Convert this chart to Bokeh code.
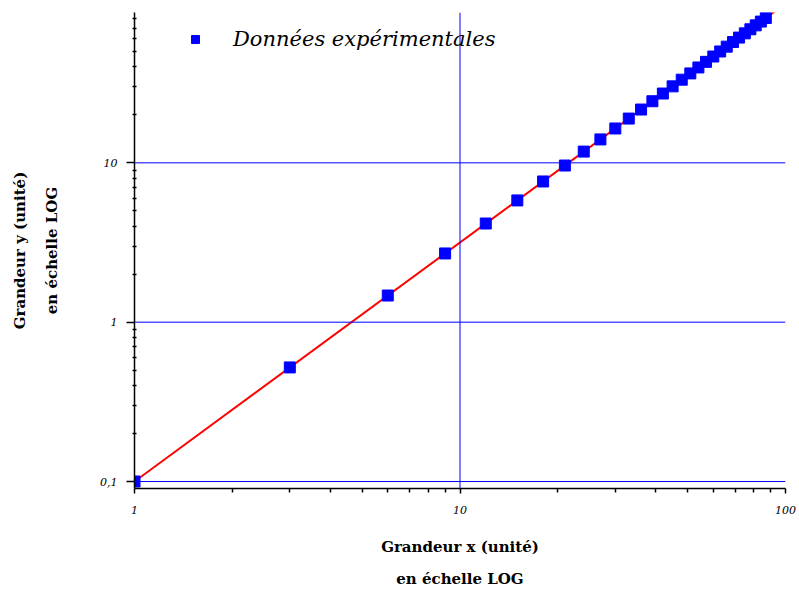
from bokeh.plotting import figure
from bokeh.models import (Legend, LegendItem, FixedTicker, CustomJSTickFormatter,
                          ColumnDataSource, Span)
from bokeh.embed import file_html
from bokeh.resources import INLINE

# Data
x_data = [1, 3, 6, 9, 12, 15, 18, 21, 24, 27, 30, 33, 36, 39, 42, 45, 48, 51, 54,
          57, 60, 63, 66, 69, 72, 75, 78, 81, 84, 87]
y_data = [0.1, 0.52, 1.47, 2.70, 4.16, 5.81, 7.64, 9.62, 11.76, 14.03, 16.43,
          18.96, 21.6, 24.36, 27.22, 30.19, 33.26, 36.42, 39.68, 43.03, 46.48,
          50.0, 53.62, 57.32, 61.09, 64.95, 68.89, 72.9, 76.99, 81.15]
fit_x = [1, 93]
fit_y = [0.1, 89.7]

x_major = [1, 10, 100]
y_major = [0.1, 1, 10]
x_grid_at = [10]
x_minor = [m * d for d in (1, 10) for m in range(2, 10)]
y_minor = [m * d for d in (0.01, 0.1, 1, 10) for m in range(2, 10)]

legend_label = "Données expérimentales"
x_label = "Grandeur x (unité)\nen échelle LOG"
y_label = "Grandeur y (unité)\nen échelle LOG"

p = figure(width=799, height=590, x_axis_type="log", y_axis_type="log",
           x_range=(1, 100), y_range=(0.0904, 87.8),
           output_backend="svg", toolbar_location=None,
           min_border_left=134, min_border_right=14, min_border_top=12,
           min_border_bottom=100)
p.outline_line_color = None
p.background_fill_color = "white"
p.xgrid.visible = False
p.ygrid.visible = False

for v in x_grid_at:
    p.add_layout(Span(location=v, dimension="height", line_color="#0000FF",
                      line_width=1))
for v in y_major:
    p.add_layout(Span(location=v, dimension="width", line_color="#0000FF",
                      line_width=1))

src = ColumnDataSource(dict(x=x_data, y=y_data))
line = p.line(fit_x, fit_y, line_color="red", line_width=2)
pts = p.scatter("x", "y", source=src, marker="square", size=11,
                fill_color="#0000FF", line_color="#0000FF")

# axes
for ax in (p.xaxis[0], p.yaxis[0]):
    ax.axis_line_color = "black"
    ax.axis_line_width = 1.5
    ax.major_tick_line_color = "black"
    ax.major_tick_line_width = 1.5
    ax.minor_tick_line_color = "black"
    ax.minor_tick_line_width = 1.5
    ax.major_label_text_font = "DejaVu Serif"
    ax.major_label_text_font_style = "italic"
    ax.major_label_text_font_size = "11px"
    ax.major_label_text_color = "black"
    ax.axis_label_text_font = "DejaVu Serif"
    ax.axis_label_text_font_style = "bold"
    ax.axis_label_text_font_size = "15px"
    ax.axis_label_text_color = "black"
    ax.axis_label_text_line_height = 1.8
    ax.formatter = CustomJSTickFormatter(code="return String(tick).replace('.', ',');")

p.xaxis.ticker = FixedTicker(ticks=x_major, minor_ticks=x_minor)
p.yaxis.ticker = FixedTicker(ticks=y_major, minor_ticks=y_minor)
p.xaxis.major_tick_out = 5
p.xaxis.major_tick_in = 0
p.xaxis.minor_tick_out = 4
p.xaxis.minor_tick_in = 0
p.yaxis.major_tick_out = 8
p.yaxis.major_tick_in = 0
p.yaxis.minor_tick_out = 2
p.yaxis.minor_tick_in = 2
p.xaxis.major_label_standoff = 12
p.yaxis.major_label_standoff = 9
p.xaxis.axis_label = x_label
p.yaxis.axis_label = y_label
p.xaxis.axis_label_standoff = 21
p.yaxis.axis_label_standoff = 36

legend = Legend(items=[LegendItem(label=legend_label, renderers=[pts])],
                location=(51, 437), padding=0, margin=0,
                border_line_color=None, background_fill_alpha=0,
                glyph_width=20, glyph_height=20, label_standoff=28,
                label_text_font="DejaVu Serif", label_text_font_style="italic",
                label_text_font_size="21px", label_text_color="black")
p.add_layout(legend)

open("out.html", "w").write(file_html(p, INLINE))
